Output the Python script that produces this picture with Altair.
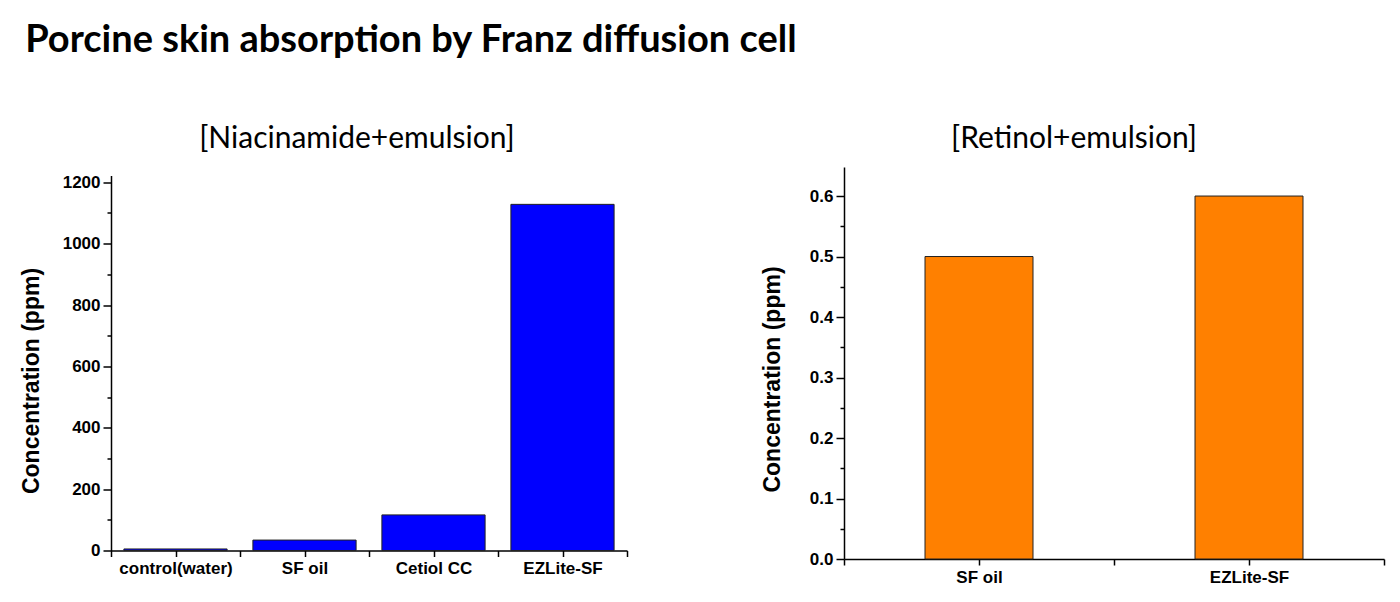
import json
import altair as alt
import pandas as pd

# left panel: niacinamide
nia_names = ["control(water)", "SF oil", "Cetiol CC", "EZLite-SF"]
nia_ppm = [5, 34, 116, 1128]
nia_ticks = [0, 100, 200, 300, 400, 500, 600, 700, 800, 900, 1000, 1100, 1200]

# right panel: retinol
ret_names = ["SF oil", "EZLite-SF"]
ret_ppm = [0.5, 0.6]
ret_ticks = [0, 0.05, 0.1, 0.15, 0.2, 0.25, 0.3, 0.35, 0.4, 0.45, 0.5, 0.55, 0.6]

AXIS_FONT = "Liberation Sans"
TITLE_FONT = "Lato"


def x_axis(names):
    n = len(names)
    vals = [i / 2 for i in range(1, 2 * n + 2)]
    expr = "datum.value % 1 === 0 ? " + json.dumps(names) + "[datum.value - 1] : ''"
    return alt.Axis(
        values=vals, labelExpr=expr, title=None, grid=False,
        tickSize=6, tickColor="black", tickWidth=1.5,
        domainColor="black", domainWidth=1.5,
        labelFont=AXIS_FONT, labelFontSize=17, labelFontWeight="bold",
        labelColor="black", labelPadding=4, labelFlush=False, labelOverlap=False,
    )


def y_axis(ticks, major_test, fmt, title_y, title_pad):
    return alt.Axis(
        values=ticks, format=fmt, grid=False,
        labelExpr="(" + major_test + ") ? datum.label : ''",
        tickSize={"condition": {"test": "!(" + major_test + ")", "value": 4}, "value": 8},
        tickColor="black", tickWidth=1.5,
        domainColor="black", domainWidth=1.5,
        labelFont=AXIS_FONT, labelFontSize=17, labelFontWeight="bold",
        labelColor="black", labelPadding=3,
        title="Concentration (ppm)", titleFont=AXIS_FONT, titleFontSize=23,
        titleFontWeight="bold", titleColor="black", titlePadding=title_pad, titleY=title_y,
    )


def panel(names, values, half, color, ticks, major_test, fmt, ymax, title,
          w, h, t_offset, t_dx, title_y, title_pad):
    df = pd.DataFrame({"name": names, "ppm": values})
    n = len(names)
    return (
        alt.Chart(df)
        .transform_window(idx="row_number()")
        .transform_calculate(lo=f"datum.idx - {half}", hi=f"datum.idx + {half}")
        .mark_bar(color=color, stroke="#222222", strokeWidth=1)
        .encode(
            x=alt.X("lo:Q", scale=alt.Scale(domain=[0.5, n + 0.5], nice=False, zero=False),
                    axis=x_axis(names)),
            x2="hi:Q",
            y=alt.Y("ppm:Q", scale=alt.Scale(domain=[0, ymax], nice=False),
                    axis=y_axis(ticks, major_test, fmt, title_y, title_pad)),
            y2=alt.datum(0),
        )
        .properties(
            width=w, height=h,
            title=alt.TitleParams(title, font=TITLE_FONT, fontSize=30, fontWeight="normal",
                                  color="black", offset=t_offset, dx=t_dx),
        )
    )


left = panel(nia_names, nia_ppm, 0.4, "#0000FF", nia_ticks,
             "datum.value % 200 === 0", "d", 1222, "[Niacinamide+emulsion]",
             516, 375, 19, -12, 205, 19)
right = panel(ret_names, ret_ppm, 0.2, "#FF8000", ret_ticks,
              "round(datum.value * 100) % 10 === 0", ".1f", 0.648, "[Retinol+emulsion]",
              540, 392, 13, -40, 212, 25)

chart = (
    alt.hconcat(left, right, spacing=133, center=True)
    .properties(
        title=alt.TitleParams("Porcine skin absorption by Franz diffusion cell",
                              anchor="start", font=TITLE_FONT, fontSize=38,
                              fontWeight="bold", color="black", offset=64, dx=5),
        padding={"left": 12, "top": 14, "right": 5, "bottom": 5},
        background="white",
    )
    .configure_view(stroke=None)
)

chart.save("out.html", embed_options={"renderer": "svg", "actions": False})
